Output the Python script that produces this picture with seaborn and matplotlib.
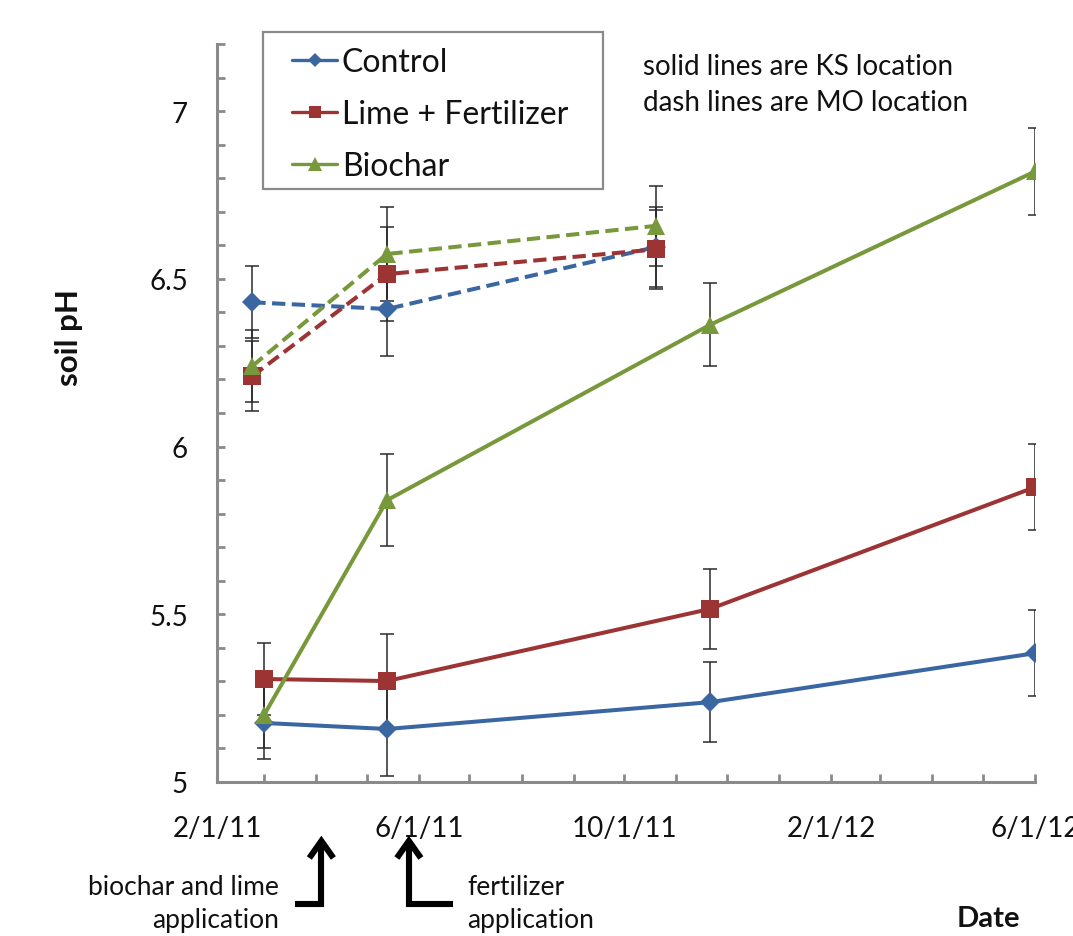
import numpy as np
import pandas as pd
import matplotlib
matplotlib.use("Agg")
import matplotlib.pyplot as plt
import matplotlib.dates as mdates
from matplotlib.lines import Line2D
from matplotlib.patches import Rectangle
from matplotlib.ticker import FixedLocator, FuncFormatter
from matplotlib.transforms import IdentityTransform
import seaborn as sns

# ---------------------------------------------------------------- data
treatments = ["Control", "Lime + Fertilizer", "Biochar"]

# sampling dates per site
ks_dates = ["2011-03-01", "2011-05-13", "2011-11-21", "2012-06-01"]
mo_dates = ["2011-02-22", "2011-05-13", "2011-10-20"]

# KS site (solid lines): mean soil pH and error
ks_control = [5.176, 5.158, 5.238, 5.384]
ks_control_err = [0.108, 0.140, 0.120, 0.128]
ks_lime = [5.307, 5.301, 5.516, 5.879]
ks_lime_err = [0.107, 0.140, 0.120, 0.128]
ks_biochar = [5.200, 5.840, 6.363, 6.820]
ks_biochar_err = [0.100, 0.137, 0.124, 0.130]

# MO site (dashed lines)
mo_control = [6.430, 6.410, 6.595]
mo_control_err = [0.107, 0.140, 0.118]
mo_lime = [6.210, 6.514, 6.588]
mo_lime_err = [0.105, 0.140, 0.118]
mo_biochar = [6.240, 6.574, 6.658]
mo_biochar_err = [0.107, 0.140, 0.120]

y_major = [5.0, 5.5, 6.0, 6.5, 7.0]
x_label_months = [2, 6, 10]
application_dates = ["2011-04-04", "2011-05-26"]

# ---------------------------------------------------------------- long table
rows = []
site_series = {
    "KS": (ks_dates, [(ks_control, ks_control_err), (ks_lime, ks_lime_err), (ks_biochar, ks_biochar_err)]),
    "MO": (mo_dates, [(mo_control, mo_control_err), (mo_lime, mo_lime_err), (mo_biochar, mo_biochar_err)]),
}
for site, (dates, series) in site_series.items():
    for trt, (vals, errs) in zip(treatments, series):
        for d, v, e in zip(dates, vals, errs):
            rows.append({"site": site, "treatment": trt, "date": pd.Timestamp(d), "pH": v, "err": e})
df = pd.DataFrame(rows)

# ---------------------------------------------------------------- style
sns.set_style("white")
plt.rcParams["font.family"] = ["Lato", "DejaVu Sans"]

colors = {"Control": "#3a66a2", "Lime + Fertilizer": "#9b3433", "Biochar": "#77983b"}
markers = {"Control": "D", "Lime + Fertilizer": "s", "Biochar": "^"}
msizes = {"Control": 10.0, "Lime + Fertilizer": 12.5, "Biochar": 13.5}
line_styles = {"KS": "-", "MO": (0, (3.3, 1.6))}
axis_gray = "#8a8a8a"
text_color = "#111111"

W, H = 1073, 937
fig = plt.figure(figsize=(W / 100, H / 100), dpi=100)
ax = fig.add_axes([217 / W, (H - 783) / H, 818 / W, 738 / H])

for site in ["KS", "MO"]:
    for trt in treatments:
        sub = df[(df.site == site) & (df.treatment == trt)]
        ax.errorbar(sub["date"], sub["pH"], yerr=sub["err"], fmt="none",
                    ecolor="#2a2a2a", elinewidth=1.1, capsize=4.8, capthick=1.1,
                    zorder=1.5)
        sns.lineplot(data=sub, x="date", y="pH", ax=ax, color=colors[trt],
                     marker=markers[trt], markersize=msizes[trt], markeredgewidth=0,
                     linewidth=2.9, linestyle=line_styles[site],
                     errorbar=None, sort=False, legend=False, zorder=2)

# ---------------------------------------------------------------- axes
ax.set_xlim(pd.Timestamp("2011-02-01"), pd.Timestamp("2012-06-01"))
ax.set_ylim(5.0, 7.2)

ax.xaxis.set_major_locator(mdates.MonthLocator())
ax.xaxis.set_major_formatter(FuncFormatter(
    lambda v, pos: (lambda d: f"{d.month}/1/{d.year % 100}" if d.month in x_label_months else "")(mdates.num2date(v))))

ax.yaxis.set_major_locator(FixedLocator(y_major))
ax.yaxis.set_minor_locator(FixedLocator(np.round(np.arange(5.0, 7.21, 0.1), 1)))
ax.yaxis.set_major_formatter(FuncFormatter(lambda v, pos: f"{v:g}"))

for side in ["top", "right"]:
    ax.spines[side].set_visible(False)
for side in ["left", "bottom"]:
    ax.spines[side].set_color(axis_gray)
    ax.spines[side].set_linewidth(2.2)

ax.tick_params(axis="both", which="both", direction="in", length=6, width=2.0,
               color=axis_gray, labelsize=20, labelcolor=text_color,
               bottom=True, left=True, top=False, right=False)
ax.tick_params(axis="x", pad=24)
ax.tick_params(axis="y", which="both", pad=21)

ax.set_ylabel("soil pH", fontsize=22.5, fontweight="bold", color=text_color)
ax.yaxis.set_label_coords(-0.164, 0.604)
ax.set_xlabel("Date", fontsize=21, fontweight="bold", color=text_color)
ax.xaxis.set_label_coords(0.943, -0.166)

# ---------------------------------------------------------------- legend
handles = [Line2D([], [], color=colors[t], marker=markers[t], linewidth=2.4,
                  markersize=msizes[t] * 0.72, markeredgewidth=0) for t in treatments]
leg = ax.legend(handles, treatments, loc="upper left",
                bbox_to_anchor=(292 / W, 1 - 48.5 / H), bbox_transform=fig.transFigure,
                frameon=False, borderpad=0, labelspacing=0.68, handlelength=1.42,
                handletextpad=0.14, borderaxespad=0, prop={"size": 23})
for t in leg.get_texts():
    t.set_color(text_color)
fig.add_artist(Rectangle((263, H - 190), 340, 157, transform=IdentityTransform(),
                         fill=False, edgecolor=axis_gray, linewidth=1.6))

# ---------------------------------------------------------------- notes
fig.text(643 / W, 1 - 75 / H, "solid lines are KS location", fontsize=20,
         color=text_color, va="baseline", ha="left")
fig.text(643 / W, 1 - 111 / H, "dash lines are MO location", fontsize=20,
         color=text_color, va="baseline", ha="left")

# application markers below the date axis
fig.canvas.draw()
y_tip = H - 842
y_base = H - 905
for date, foot, label, side in zip(application_dates, [-26, 44],
                                   ["biochar and lime\napplication", "fertilizer\napplication"],
                                   ["right", "left"]):
    x0 = ax.transData.transform((mdates.date2num(pd.Timestamp(date)), 5.0))[0]
    fig.add_artist(Line2D([x0 + foot, x0, x0], [y_base, y_base, y_tip - 3],
                          transform=IdentityTransform(), color="black", linewidth=4.4,
                          solid_joinstyle="miter", solid_capstyle="butt"))
    fig.add_artist(Line2D([x0 - 12, x0, x0 + 12], [y_tip - 17, y_tip, y_tip - 17],
                          transform=IdentityTransform(), color="black", linewidth=4.4,
                          solid_joinstyle="miter", solid_capstyle="butt"))
    line1, line2 = label.split("\n")
    tx = (x0 + foot - 16) if side == "right" else (x0 + foot + 14)
    fig.text(tx / W, 1 - 895 / H, line1, fontsize=19, color=text_color,
             ha=side, va="baseline")
    fig.text(tx / W, 1 - 928 / H, line2, fontsize=19, color=text_color,
             ha=side, va="baseline")

fig.savefig("out.png", dpi=100, facecolor="white")
